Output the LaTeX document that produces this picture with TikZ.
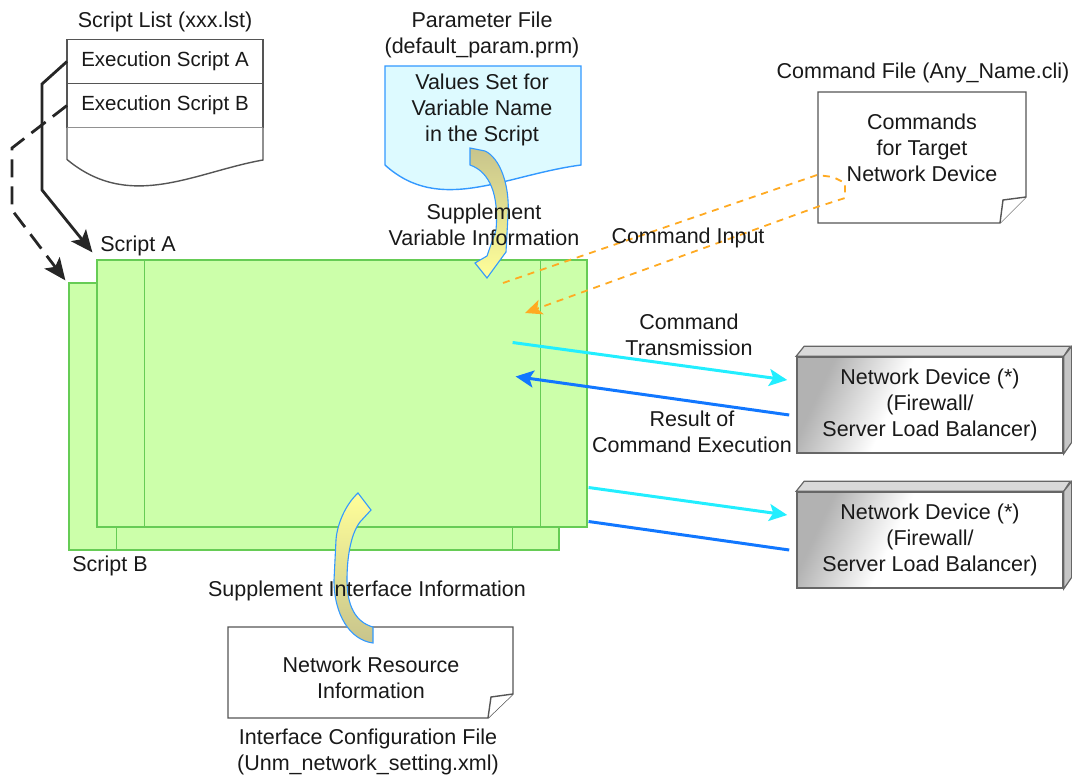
\documentclass[tikz,border=0pt]{standalone}
\usepackage{fontspec}
\setmainfont{Liberation Sans}
\usetikzlibrary{arrows.meta, positioning, calc}
\definecolor{scriptfill}{HTML}{CCFFAA}
\definecolor{scriptline}{HTML}{66CC55}
\definecolor{prmfill}{HTML}{DDFAFF}
\definecolor{prmline}{HTML}{3399FF}
\definecolor{txcol}{HTML}{22EEFF}
\definecolor{rxcol}{HTML}{1177FF}
\definecolor{cincol}{HTML}{FFAA22}
\definecolor{suppdark}{HTML}{C8C48C}
\definecolor{supplight}{HTML}{FFFF99}
\definecolor{fileline}{HTML}{555555}
\definecolor{devline}{HTML}{666666}
\newcommand{\lblsize}{\fontsize{21.5}{26}\selectfont}
\newcommand{\rowsize}{\fontsize{20.5}{24}\selectfont}
\pgfdeclarehorizontalshading{devshade}{100bp}{color(0bp)=(gray!60); color(25bp)=(gray!60); color(42bp)=(white); color(100bp)=(white)}

\begin{document}
\begin{tikzpicture}[x=1pt, y=-1pt,
  lbl/.style={font=\lblsize, align=center, inner sep=0pt, text=black!90},
  listrow/.style={
    draw=fileline, line width=1.4pt, fill=white, minimum width=196pt, minimum height=44pt,
    font=\rowsize, inner sep=0pt, outer sep=0pt, text=black!90
  },
  filebox/.style={draw=fileline, line width=1.4pt, fill=white},
  scriptbox/.style={
    draw=scriptline, fill=scriptfill, line width=1.2pt,
    minimum width=490pt, minimum height=267pt, inner sep=0pt
  },
  devbox/.style={
    draw=devline, line width=1.6pt, shade, shading=devshade, shading angle=-25,
    minimum width=266pt, minimum height=96pt, font=\lblsize, align=center, inner sep=0pt,
    text=black!90
  },
  devside/.style={draw=devline, line width=1.2pt, fill=gray!45},
  supp/.style={draw=prmline, line width=1.1pt},
  execarrow/.style={-{Stealth[length=22pt, width=19pt, inset=5pt]}, line width=2.8pt, black!85},
  txarrow/.style={-{Stealth[length=18pt, width=17pt, inset=4pt]}, line width=3pt, txcol},
  rxarrow/.style={-{Stealth[length=18pt, width=17pt, inset=4pt]}, line width=3pt, rxcol},
  cinarrow/.style={-{Stealth[length=17pt, width=15pt, inset=4pt]}, line width=1.8pt, cincol,
    dash pattern=on 7pt off 6pt},
]
\useasboundingbox (0,0) rectangle (1072,776);

% ===== Script list (top left) =====
\node[listrow] (rowA) at (165,61.5) {Execution Script A};
\node[listrow, below=0pt of rowA] (rowB) {Execution Script B};
\draw[filebox] (rowB.south west) -- ++(0,32) .. controls (130,212) and (195,172) .. (263,160)
  -- (rowB.south east);
\node[lbl, above=7pt of rowA] (listTitle) {Script List (xxx.lst)};

% ===== Parameter file =====
\node[lbl] (prmTitle) at (482,34.5) {Parameter File\\(default\_param.prm)};
\draw[prmline, fill=prmfill, line width=1.4pt] (385,66) -- (581,66) -- (581,165)
  .. controls (505,175) and (440,215) .. (385,165) -- cycle;
\node[lbl] (prmTxt) at (482,110) {Values Set for\\Variable Name\\in the Script};

% ===== Command file =====
\node[lbl] (cliTitle) at (923,73) {Command File (Any\_Name.cli)};
\draw[filebox] (818,92) -- (1026,92) -- (1026,197) -- (1000,223) -- (818,223) -- cycle;
\draw[filebox] (1000,223) -- (1003,200) -- (1026,197);
\node[lbl] (cliTxt) at (922,147.5) {Commands\\for Target\\Network Device};

% ===== Interface configuration file =====
\draw[filebox] (228,627) -- (513,627) -- (513,694) -- (488,718) -- (228,718) -- cycle;
\draw[filebox] (488,718) -- (491,697) -- (513,694);
\node[lbl] (resTxt) at (371,677.5) {Network Resource\\Information};
\node[lbl] (resTitle) at (368,751.5) {Interface Configuration File\\(Unm\_network\_setting.xml)};

% ===== Scripts B (back) and A (front) =====
\foreach \s/\c in {scrB/{314,416.5}, scrA/{342,393.5}}{
  \node[scriptbox] (\s) at (\c) {};
  \draw[scriptline, line width=1.2pt] ([xshift=48pt]\s.north west) -- ([xshift=48pt]\s.south west);
  \draw[scriptline, line width=1.2pt] ([xshift=-47pt]\s.north east) -- ([xshift=-47pt]\s.south east);
}
\node[lbl] (labA) at (138,246) {Script A};
\node[lbl] (labB) at (110,566) {Script B};

% list -> scripts
\draw[execarrow] (rowA.west) -- (42,84) -- (42,190) -- ([shift={(-4,-7)}]scrA.north west);
\draw[execarrow, dash pattern=on 18pt off 9pt] (rowB.west) -- (12,148) -- (12,210)
  -- ([shift={(-3,-2)}]scrB.north west);

% ===== Command input (dashed band) =====
\coordinate (cinTop) at (503,283);
\coordinate (cinTip) at (525,313);
\draw[cinarrow] (cinTop) -- (817,175) -- (833,177) -- (845,183) -- (845,198) -- (817,207) -- (cinTip);
\node[lbl] (cinLbl) at (688,238) {Command Input};

% ===== Network devices =====
\foreach \i/\dy in {1/405, 2/540}{
  \node[devbox] (dev\i) at (930,\dy) {Network Device (*)\\(Firewall/\\Server Load Balancer)};
  \draw[devside, fill=gray!30] (dev\i.north west) -- ++(8,-10) -- ++(266,0) -- (dev\i.north east) -- cycle;
  \draw[devside] (dev\i.north east) -- ++(8,-10) -- ++(0,96) -- (dev\i.south east) -- cycle;
}

% transmission / result
\draw[txarrow] ([shift={(-75,-51)}]scrA.east) -- ([shift={(-9,-25)}]dev1.west);
\draw[rxarrow] ([shift={(-7,10)}]dev1.west) -- ([shift={(-72,-17)}]scrA.east);
\draw[txarrow] ([shift={(1,94)}]scrA.east) -- ([shift={(-9,-25)}]dev2.west);
\draw[line width=3pt, rxcol] ([shift={(1,128)}]scrA.east) -- ([shift={(-7,10)}]dev2.west);
\node[lbl] (txLbl) at (689,335) {Command\\Transmission};
\node[lbl] (rxLbl) at (692,431.5) {Result of\\Command Execution};

% ===== Supplement arrows =====
\draw[supp, top color=suppdark, bottom color=supplight]
  (470,148) -- (485,151) .. controls (500,158) and (510,185) .. (508,215) -- (506,252)
  -- (487,278) -- (475,263) -- (487,256) -- (496,230)
  .. controls (499,195) and (490,172) .. (470,165) -- cycle;
\draw[supp, top color=supplight, bottom color=suppdark]
  (373,643) .. controls (350,640) and (334,615) .. (334,580) -- (336,540)
  .. controls (337,525) and (345,505) .. (358,493) -- (371,510) -- (360,522)
  .. controls (350,535) and (347,560) .. (347,580) .. controls (347,605) and (355,622) .. (373,627) -- cycle;
\node[lbl] (varLbl) at (484,224.5) {Supplement\\Variable Information};
\node[lbl] (ifLbl) at (367,591) {Supplement Interface Information};

\end{tikzpicture}
\end{document}
